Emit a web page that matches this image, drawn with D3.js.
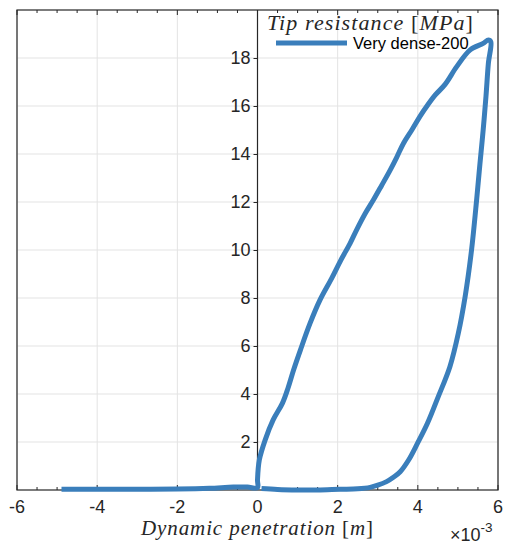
<!DOCTYPE html>
<html>
<head>
<meta charset="utf-8">
<script src="https://cdn.jsdelivr.net/npm/d3@7"></script>
<style>
  html, body { margin: 0; padding: 0; background: #fff; }
  svg { display: block; }
</style>
</head>
<body>
<svg id="chart" width="509" height="545"></svg>
<script>
// Penetration in units of 1e-3 m, tip resistance in MPa, in path order:
// pre-contact drift, loading branch, unloading branch, return along the base.
const penetration = [
  -4.89, -4.0, -3.0, -2.0, -1.2, -0.6, -0.25, 0.0,
  0.0, 0.045, 0.19, 0.39, 0.62, 0.76, 0.90, 1.07, 1.31, 1.56, 1.85, 2.08, 2.31, 2.47,
  2.68, 2.89, 3.10, 3.31, 3.47, 3.64, 3.85, 4.05, 4.25, 4.43, 4.68, 4.97, 5.30, 5.63, 5.76, 5.82,
  5.76, 5.70, 5.63, 5.55, 5.47, 5.34, 5.18, 5.01, 4.80, 4.50, 4.24, 3.99, 3.77, 3.56, 3.40,
  3.22, 3.0, 2.81, 2.5, 2.06, 1.5, 1.0, 0.5, 0.1
];
const tipResistance = [
  0.03, 0.03, 0.03, 0.04, 0.07, 0.12, 0.12, 0.10,
  0.42, 1.25, 2.08, 2.92, 3.61, 4.24, 5.0, 5.83, 6.94, 7.92, 8.82, 9.58, 10.28, 10.83,
  11.5, 12.08, 12.70, 13.33, 13.85, 14.44, 15.0, 15.56, 16.05, 16.45, 16.9, 17.64, 18.33, 18.61, 18.75, 18.68,
  17.78, 16.40, 15.0, 13.60, 12.15, 10.0, 8.06, 6.53, 5.14, 3.85, 2.78, 1.94, 1.25, 0.76, 0.54,
  0.35, 0.20, 0.11, 0.05, 0.03, 0.0, 0.0, 0.02, 0.06
];
const seriesName = "Very dense-200";

const xTicks = [-6, -4, -2, 0, 2, 4, 6];
const yTicks = [2, 4, 6, 8, 10, 12, 14, 16, 18];
const xDomain = [-6, 6];
const yDomain = [0, 20];

const svg = d3.select("#chart");
const plotLeft = 17, plotRight = 498, plotTop = 10, plotBottom = 490;

const x = d3.scaleLinear().domain(xDomain).range([plotLeft, plotRight]);
const y = d3.scaleLinear().domain(yDomain).range([plotBottom, plotTop]);

const axisColor = "#262626";
const gridColor = "#e3e3e3";
const lineColor = "#3a7ebb";
const sans = "'Liberation Sans', Arial, Helvetica, sans-serif";
const serif = "'Liberation Serif', 'Times New Roman', serif";

// grid
const grid = svg.append("g");
grid.append("g").selectAll("line").data(xTicks).join("line")
  .attr("x1", d => x(d)).attr("x2", d => x(d))
  .attr("y1", plotTop).attr("y2", plotBottom)
  .attr("stroke", gridColor).attr("stroke-width", 1);
grid.append("g").selectAll("line").data(yTicks).join("line")
  .attr("y1", d => y(d)).attr("y2", d => y(d))
  .attr("x1", plotLeft).attr("x2", plotRight)
  .attr("stroke", gridColor).attr("stroke-width", 1);

// minor and major ticks along bottom and top edges
const minorTicks = d3.range(-6, 6.001, 0.5).filter(v => Math.abs(v % 2) > 1e-9);
const tickG = svg.append("g").attr("stroke", axisColor).attr("stroke-width", 1);
[[plotBottom, -1], [plotTop, 1]].forEach(([edge, dir]) => {
  tickG.append("g").selectAll("line").data(xTicks).join("line")
    .attr("x1", d => x(d)).attr("x2", d => x(d))
    .attr("y1", edge).attr("y2", edge + dir * 5);
  tickG.append("g").selectAll("line").data(minorTicks).join("line")
    .attr("x1", d => x(d)).attr("x2", d => x(d))
    .attr("y1", edge).attr("y2", edge + dir * 3);
});

// x tick labels
svg.append("g").selectAll("text").data(xTicks).join("text")
  .attr("x", d => x(d)).attr("y", 513)
  .attr("text-anchor", "middle")
  .attr("font-family", sans).attr("font-size", 18)
  .attr("fill", axisColor)
  .text(d => d);

// exponent label
const expo = svg.append("text").attr("x", 450).attr("y", 541)
  .attr("font-family", sans).attr("font-size", 18).attr("fill", axisColor);
expo.append("tspan").text("\u00d710");
expo.append("tspan").attr("dy", -9).attr("font-size", 13.5).text("-3");

// y axis at origin
const yAxis = d3.axisLeft(y).tickValues(yTicks).tickSize(4).tickSizeOuter(0).tickPadding(3);
const yG = svg.append("g").attr("transform", `translate(${x(0)},0)`).call(yAxis);
yG.select(".domain").remove();
yG.selectAll(".tick line").attr("stroke", axisColor);
yG.selectAll(".tick text").attr("font-family", sans).attr("font-size", 18).attr("fill", axisColor);
svg.append("line").attr("x1", x(0)).attr("x2", x(0)).attr("y1", plotTop).attr("y2", plotBottom)
  .attr("stroke", axisColor).attr("stroke-width", 1.2);

// frame
svg.append("rect").attr("x", plotLeft).attr("y", plotTop)
  .attr("width", plotRight - plotLeft).attr("height", plotBottom - plotTop)
  .attr("fill", "none").attr("stroke", axisColor).attr("stroke-width", 1.2);

// curve
const pts = penetration.map((p, i) => [p, tipResistance[i]]);
const line = d3.line().curve(d3.curveCatmullRom.alpha(0.5))
  .x(d => x(d[0])).y(d => y(d[1]));
svg.append("path").datum(pts)
  .attr("d", line)
  .attr("fill", "none").attr("stroke", lineColor)
  .attr("stroke-width", 5)
  .attr("stroke-linejoin", "round").attr("stroke-linecap", "butt");

// x label
const xl = svg.append("text").attr("x", (plotLeft + plotRight) / 2).attr("y", 535)
  .attr("text-anchor", "middle").attr("font-family", serif).attr("font-size", 21)
  .attr("fill", axisColor).attr("letter-spacing", 0.9);
xl.append("tspan").attr("font-style", "italic").text("Dynamic penetration ");
xl.append("tspan").text("[");
xl.append("tspan").attr("font-style", "italic").text("m");
xl.append("tspan").text("]");

// legend
const lt = svg.append("text").attr("x", 267).attr("y", 30)
  .attr("font-family", serif).attr("font-size", 22)
  .attr("fill", axisColor).attr("letter-spacing", 1.1);
lt.append("tspan").attr("font-style", "italic").text("Tip resistance ");
lt.append("tspan").text("[");
lt.append("tspan").attr("font-style", "italic").text("MPa");
lt.append("tspan").text("]");

svg.append("line").attr("x1", 276).attr("x2", 347).attr("y1", 43).attr("y2", 43)
  .attr("stroke", lineColor).attr("stroke-width", 5);
svg.append("text").attr("x", 353).attr("y", 49)
  .attr("font-family", sans).attr("font-size", 16.5).attr("fill", "#000")
  .text(seriesName);
</script>
</body>
</html>
